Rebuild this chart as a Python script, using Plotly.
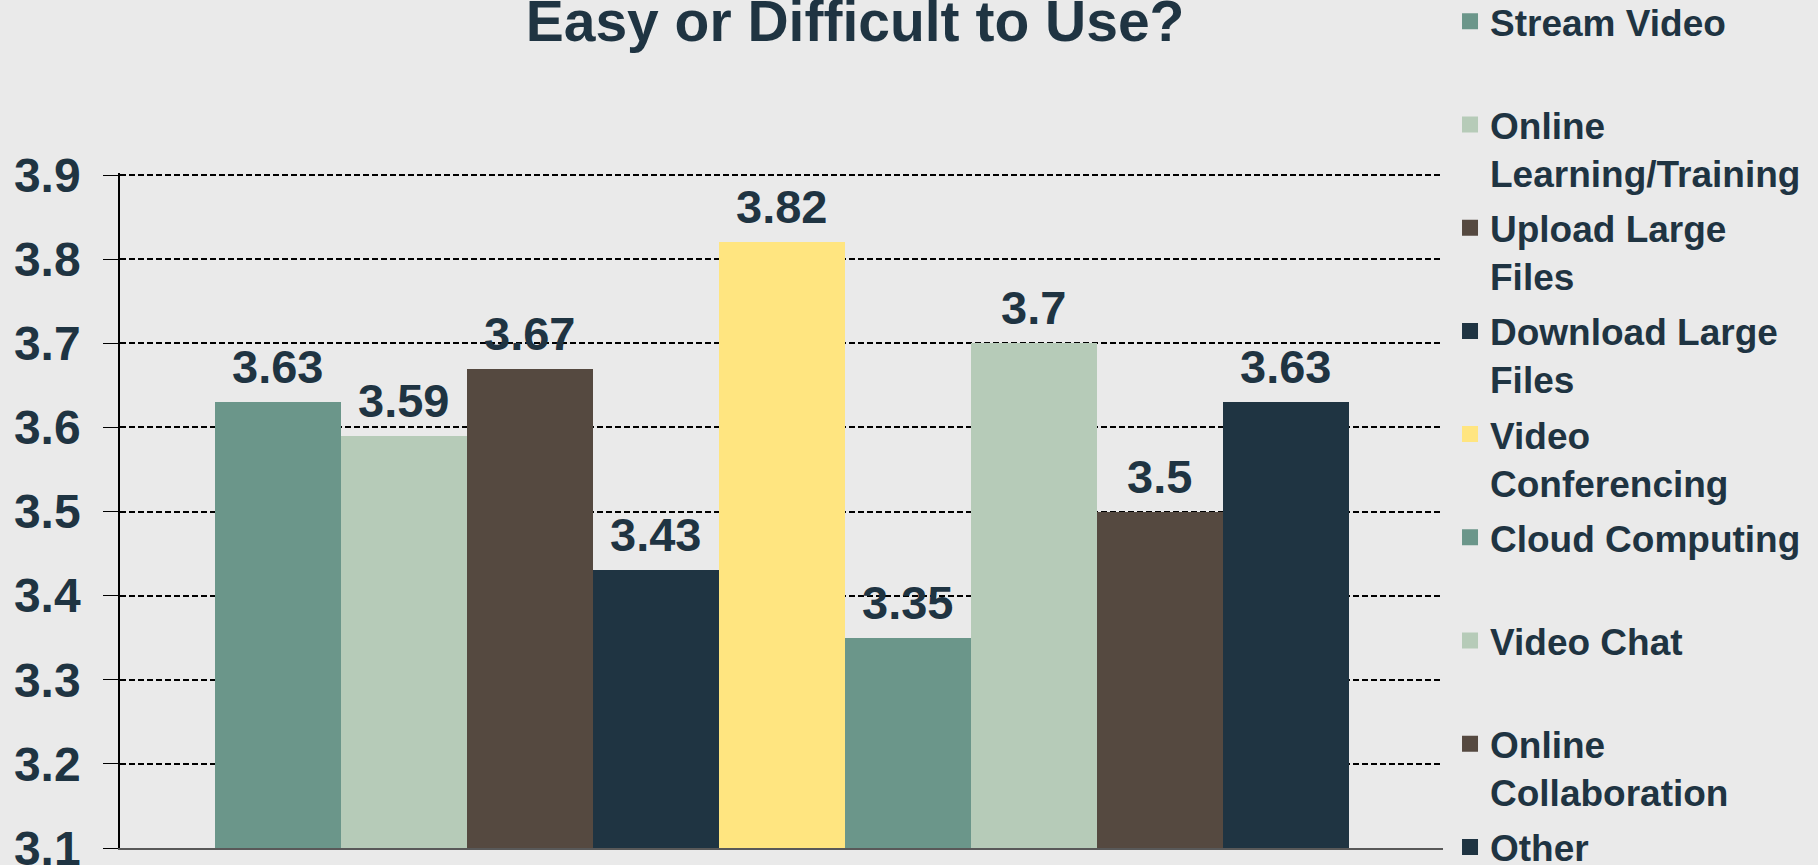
import plotly.graph_objects as go

series = ["Stream Video", "Online Learning/Training", "Upload Large Files",
          "Download Large Files", "Video Conferencing", "Cloud Computing",
          "Video Chat", "Online Collaboration", "Other"]
legend_labels = ["Stream Video<br> ", "Online<br>Learning/Training", "Upload Large<br>Files",
                 "Download Large<br>Files", "Video<br>Conferencing", "Cloud Computing<br> ",
                 "Video Chat<br> ", "Online<br>Collaboration", "Other"]
values = [3.63, 3.59, 3.67, 3.43, 3.82, 3.35, 3.70, 3.50, 3.63]
value_labels = ["3.63", "3.59", "3.67", "3.43", "3.82", "3.35", "3.7", "3.5", "3.63"]
colors = ["#6B968A", "#B6CBB8", "#554940", "#1F3442", "#FFE580",
          "#6B968A", "#B6CBB8", "#554940", "#1F3442"]
y_ticks = [3.1, 3.2, 3.3, 3.4, 3.5, 3.6, 3.7, 3.8, 3.9]

NAVY = "#1F3442"
FONT = "Liberation Sans, Arial, sans-serif"

fig = go.Figure()
for i, (s, v, c) in enumerate(zip(series, values, colors)):
    fig.add_trace(go.Bar(
        x=[s], y=[v], name=s, marker=dict(color=c, line=dict(width=0)),
        showlegend=False, hoverinfo="skip",
    ))
# legend entries (square swatches, one per series)
for i, (lab, c) in enumerate(zip(legend_labels, colors)):
    fig.add_trace(go.Scatter(
        x=[None], y=[None], mode="markers", name=lab,
        marker=dict(symbol="square", size=16, color=c, line=dict(width=0)),
        legendgroup=f"g{i}", hoverinfo="skip",
    ))

for s, v, t in zip(series, values, value_labels):
    fig.add_annotation(x=s, y=v, text=f"<b>{t}</b>", showarrow=False,
                       yanchor="bottom", yshift=7,
                       font=dict(family=FONT, size=47, color=NAVY))

fig.update_layout(
    width=1818, height=865,
    paper_bgcolor="#EAEAEA", plot_bgcolor="#EAEAEA",
    margin=dict(l=120, r=375, t=173, b=17, autoexpand=False),
    barmode="overlay", bargap=0,
    title=dict(text="<b>Easy or Difficult to Use?</b>", x=0.5556, xref="paper",
               xanchor="center", y=1 - 21.5 / 865, yref="container", yanchor="middle",
               font=dict(family=FONT, size=57, color=NAVY)),
    xaxis=dict(type="category", range=[-1.25, 9.25], showticklabels=False,
               ticks="", showgrid=False, showline=True, linecolor="#595959",
               linewidth=2, zeroline=False, fixedrange=True),
    xaxis2=dict(overlaying="x", anchor="y", range=[0, 1], tickvals=[0, 1],
                ticks="outside", ticklen=15, tickcolor="#595959", tickwidth=1.5,
                showticklabels=False, showgrid=False, showline=False, zeroline=False),
    yaxis=dict(range=[3.1, 3.9025], tickvals=y_ticks, tickformat=".1f",
               ticks="outside", ticklen=15, tickcolor="black", tickwidth=1,
               showline=True, linecolor="black", linewidth=1.5,
               showgrid=True, gridcolor="black", gridwidth=1.5, griddash="6px,3px",
               zeroline=False, ticklabelstandoff=13, ticklabeloverflow="allow",
               tickfont=dict(family=FONT, size=48, color=NAVY, weight="bold")),
    legend=dict(x=1.0053, xanchor="left", y=1.27, yanchor="top",
                valign="top", tracegroupgap=4, bgcolor="rgba(0,0,0,0)",
                maxheight=3000, itemsizing="trace",
                font=dict(family=FONT, size=37, color=NAVY, weight="bold"),
                itemclick=False, itemdoubleclick=False),
    showlegend=True,
)

fig.write_html("out.html", config={"displayModeBar": False},
               post_script="document.body.style.margin='0';document.body.style.overflow='hidden';")
